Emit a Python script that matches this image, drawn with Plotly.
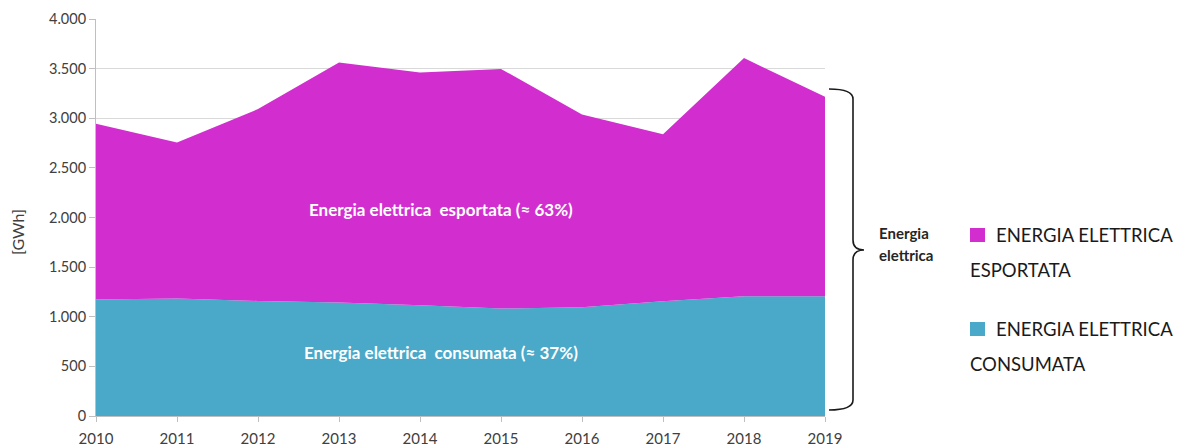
import plotly.graph_objects as go

# Annual electricity balance, GWh
years = [2010, 2011, 2012, 2013, 2014, 2015, 2016, 2017, 2018, 2019]
consumata = [1173, 1183, 1159, 1143, 1116, 1083, 1096, 1156, 1207, 1207]
totale = [2945, 2756, 3092, 3562, 3462, 3497, 3038, 2840, 3606, 3216]
esportata = [t - c for t, c in zip(totale, consumata)]

y_ticks = [0, 500, 1000, 1500, 2000, 2500, 3000, 3500, 4000]

COL_ESP = "#D22ECF"
COL_CON = "#4AA8C8"
FONT = "Lato"
W, H = 1177, 446
M_L, M_R, M_T, M_B = 96, 352, 19, 30
PW, PH = W - M_L - M_R, H - M_T - M_B


def px(x):
    return (x - M_L) / PW


def py(y):
    return (H - M_B - y) / PH


fig = go.Figure()
fig.add_trace(go.Scatter(
    x=years, y=consumata, stackgroup="one", mode="lines",
    line=dict(width=0), fillcolor=COL_CON, name="ENERGIA ELETTRICA CONSUMATA",
))
fig.add_trace(go.Scatter(
    x=years, y=esportata, stackgroup="one", mode="lines",
    line=dict(width=0), fillcolor=COL_ESP, name="ENERGIA ELETTRICA ESPORTATA",
))

# Labels inside the stacked areas
fig.add_annotation(x=px(441), y=py(209), xref="paper", yref="paper",
                   xanchor="center", yanchor="middle",
                   text="<b>Energia elettrica  esportata (≈ 63%)</b>",
                   showarrow=False, font=dict(family=FONT, size=17, color="white"))
fig.add_annotation(x=px(441), y=py(352), xref="paper", yref="paper",
                   xanchor="center", yanchor="middle",
                   text="<b>Energia elettrica  consumata (≈ 37%)</b>",
                   showarrow=False, font=dict(family=FONT, size=17, color="white"))

# Curly brace grouping the total
x0, xs, xt = px(829), px(853), px(864)
yt, ym, yb = py(89), py(250), py(410)
d = 10 / PH
brace = (
    f"M {x0},{yt} Q {xs},{yt} {xs},{yt - d} "
    f"L {xs},{ym + d} Q {xs},{ym} {xt},{ym} "
    f"Q {xs},{ym} {xs},{ym - d} "
    f"L {xs},{yb + d} Q {xs},{yb} {x0},{yb}"
)
fig.add_shape(type="path", path=brace, xref="paper", yref="paper",
              line=dict(color="#1a1a1a", width=1.6))
for text, yline in (("<b>Energia</b>", 233), ("<b>elettrica</b>", 255)):
    fig.add_annotation(x=px(877), y=py(yline), xref="paper", yref="paper",
                       xanchor="left", yanchor="middle", showarrow=False, text=text,
                       font=dict(family=FONT, size=15, color="#262626"))

# Legend block
legend_items = [
    (COL_ESP, "ENERGIA ELETTRICA", "ESPORTATA", 235, 270),
    (COL_CON, "ENERGIA ELETTRICA", "CONSUMATA", 329, 364),
]
for color, line1, line2, y1, y2 in legend_items:
    fig.add_shape(type="rect", xref="paper", yref="paper",
                  x0=px(970), x1=px(985), y0=py(y1 + 7), y1=py(y1 - 7),
                  fillcolor=color, line=dict(width=0))
    fig.add_annotation(x=px(994), y=py(y1), xref="paper", yref="paper",
                       xanchor="left", yanchor="middle", showarrow=False, text=line1,
                       font=dict(family=FONT, size=18.5, color="#1a1a1a"))
    fig.add_annotation(x=px(968), y=py(y2), xref="paper", yref="paper",
                       xanchor="left", yanchor="middle", showarrow=False, text=line2,
                       font=dict(family=FONT, size=18.5, color="#1a1a1a"))

fig.add_annotation(x=px(18), y=py(232), xref="paper", yref="paper",
                   xanchor="center", yanchor="middle",
                   text="[GWh]", textangle=-90, showarrow=False,
                   font=dict(family=FONT, size=16, color="#404040"))

fig.update_layout(
    width=W, height=H,
    margin=dict(l=M_L, r=M_R, t=M_T, b=M_B),
    paper_bgcolor="white", plot_bgcolor="white",
    showlegend=False,
    separators=",.",
    font=dict(family=FONT, color="#404040"),
    xaxis=dict(
        range=[2010, 2019], tickmode="array", tickvals=years,
        automargin=False,
        showgrid=False, showline=True, linecolor="#BFBFBF", linewidth=1,
        ticks="outside", ticklen=5, tickcolor="#BFBFBF",
        ticklabelstandoff=4,
        tickfont=dict(family=FONT, size=15, color="#404040"),
        zeroline=False,
    ),
    yaxis=dict(
        range=[0, 4000], tickmode="array", tickvals=y_ticks,
        tickformat=",d", automargin=False,
        showgrid=True, gridcolor="#D9D9D9", gridwidth=1,
        showline=True, linecolor="#BFBFBF", linewidth=1,
        ticks="outside", ticklen=6, tickcolor="#BFBFBF",
        tickfont=dict(family=FONT, size=14.5, color="#404040"),
        zeroline=False,
    ),
)

fig.write_html("out.html")
